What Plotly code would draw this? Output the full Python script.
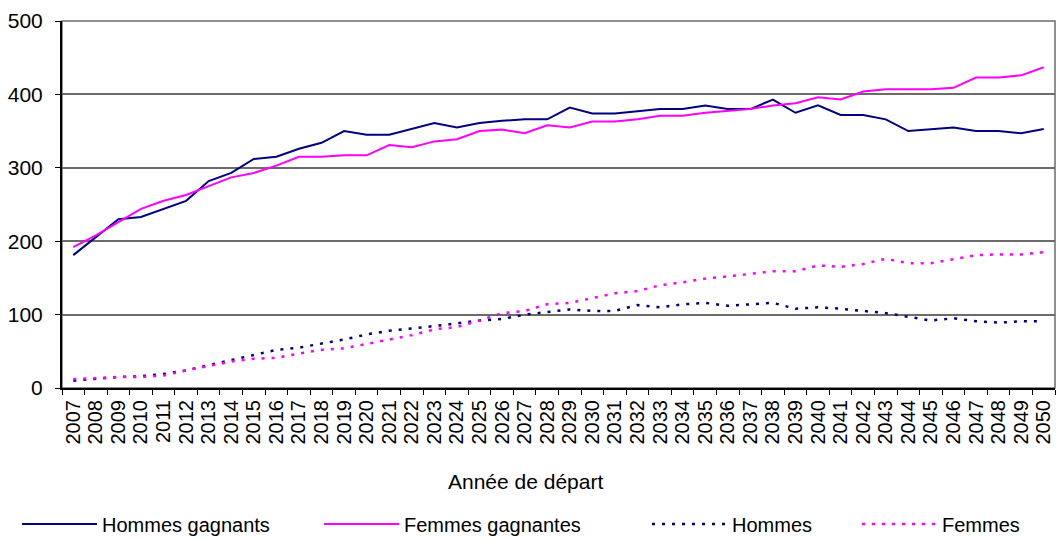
import plotly.graph_objects as go

years = ["2007", "2008", "2009", "2010", "2011", "2012", "2013", "2014", "2015", "2016",
         "2017", "2018", "2019", "2020", "2021", "2022", "2023", "2024", "2025", "2026",
         "2027", "2028", "2029", "2030", "2031", "2032", "2033", "2034", "2035", "2036",
         "2037", "2038", "2039", "2040", "2041", "2042", "2043", "2044", "2045", "2046",
         "2047", "2048", "2049", "2050"]

hommes_gagnants = [181, 205, 230, 233, 244, 255, 282, 293, 312, 315,
                   326, 334, 350, 345, 345, 353, 361, 355, 361, 364,
                   366, 366, 382, 374, 374, 377, 380, 380, 385, 380,
                   380, 393, 375, 385, 372, 372, 366, 350, 353, 355,
                   350, 350, 347, 353]

femmes_gagnantes = [192, 208, 226, 244, 255, 263, 275, 287, 293, 303,
                    315, 315, 317, 317, 331, 328, 336, 339, 350, 352,
                    347, 358, 355, 363, 363, 366, 371, 371, 375, 377,
                    380, 385, 388, 396, 393, 404, 407, 407, 407, 409,
                    423, 423, 426, 437]

hommes = [10, 13, 15, 16, 19, 24, 31, 38, 45, 52,
          55, 60, 66, 73, 78, 81, 84, 88, 92, 94,
          100, 103, 107, 105, 105, 113, 110, 114, 116, 112,
          114, 116, 108, 110, 108, 105, 102, 97, 92, 95,
          91, 89, 91, 91]

femmes = [12, 14, 15, 15, 17, 24, 30, 36, 40, 41,
          47, 52, 54, 60, 65, 72, 80, 83, 92, 102,
          105, 114, 116, 123, 129, 132, 140, 144, 149, 152,
          155, 159, 159, 167, 165, 169, 176, 170, 170, 176,
          181, 182, 182, 185]

y_ticks = [0, 100, 200, 300, 400, 500]

NAVY = "#000080"
MAGENTA = "#FF00FF"
FONT = "Liberation Sans, Arial, sans-serif"

fig = go.Figure()
fig.add_trace(go.Scatter(x=years, y=hommes_gagnants, name="Hommes gagnants", mode="lines",
                         line=dict(color=NAVY, width=2), legend="legend"))
fig.add_trace(go.Scatter(x=years, y=femmes_gagnantes, name="Femmes gagnantes", mode="lines",
                         line=dict(color=MAGENTA, width=2), legend="legend2"))
fig.add_trace(go.Scatter(x=years, y=hommes, name="Hommes", mode="lines",
                         line=dict(color=NAVY, width=2.5, dash="3px,7px"), legend="legend3"))
fig.add_trace(go.Scatter(x=years, y=femmes, name="Femmes", mode="lines",
                         line=dict(color=MAGENTA, width=2.5, dash="3px,7px"), legend="legend4"))

W, H = 1056, 540
L, R, T, B = 62, 1, 21, 152
PH = H - T - B
PW = W - L - R

leg_common = dict(orientation="h", yanchor="middle", y=1 - 524 / H, yref="container",
                  xanchor="left", xref="container",
                  font=dict(family=FONT, size=20, color="black"),
                  bgcolor="rgba(0,0,0,0)", itemwidth=75, tracegroupgap=0)

fig.update_layout(
    width=W, height=H,
    margin=dict(l=L, r=R, t=T, b=B, autoexpand=False),
    paper_bgcolor="white", plot_bgcolor="white",
    font=dict(family=FONT, size=20, color="black"),
    showlegend=True,
    legend=dict(x=17 / W, **leg_common),
    legend2=dict(x=319 / W, **leg_common),
    legend3=dict(x=647 / W, **leg_common),
    legend4=dict(x=857 / W, **leg_common),
    xaxis=dict(type="category", range=[-0.5, 43.5], tickangle=-90,
               tickmode="array", tickvals=years, ticktext=years,
               ticks="outside", tickson="boundaries", ticklen=5, tickcolor="black",
               showline=True, linecolor="black", linewidth=2, showgrid=False,
               automargin=False, ticklabelstandoff=2,
               tickfont=dict(family=FONT, size=20, color="black")),
    yaxis=dict(range=[0, 500], tickvals=y_ticks, ticks="outside", ticklen=5, tickcolor="black",
               showline=True, linecolor="black", linewidth=2, automargin=False,
               ticklabelstandoff=8,
               showgrid=True, gridcolor="#6b6b6b", gridwidth=1.5, zeroline=False,
               tickfont=dict(family=FONT, size=21, color="black")),
    shapes=[dict(type="rect", xref="paper", yref="paper", x0=0, x1=1, y0=0, y1=1,
                 line=dict(color="#6b6b6b", width=1.5), layer="below")],
    annotations=[dict(text="Année de départ", xref="paper", yref="paper",
                      x=(525 - L) / PW, y=(T + PH - 481) / PH,
                      xanchor="center", yanchor="middle", showarrow=False,
                      font=dict(family=FONT, size=21, color="black"))],
)

fig.write_html("out.html", config={"displayModeBar": False},
               post_script="document.body.style.margin='0';document.body.style.overflow='hidden';")
